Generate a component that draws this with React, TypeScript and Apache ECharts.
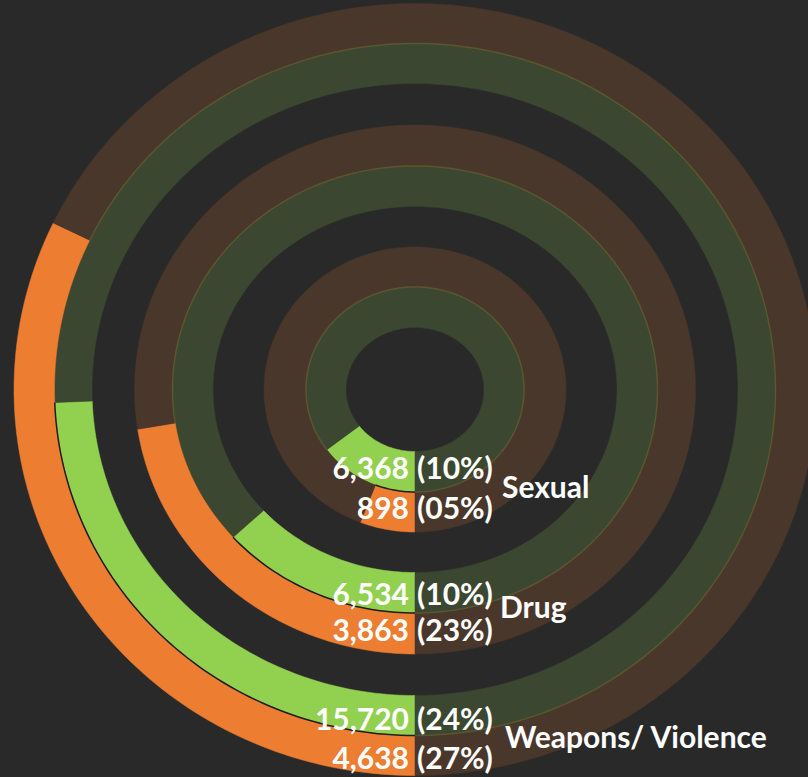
import React, { useEffect, useRef } from "react";
import * as echarts from "echarts";

// ---- data ----
const categories = ["Sexual", "Drug", "Weapons/ Violence"];
const greenCounts = [6368, 6534, 15720];
const greenPct = [10, 10, 24];
const orangeCounts = [898, 3863, 4638];
const orangePct = [5, 23, 27];
// length of each coloured arc as drawn in the picture (% of a full turn)
const greenArc = [15.0, 13.5, 24.4];
const orangeArc = [5.9, 22.6, 32.1];

// ---- layout ----
const W = 808;
const H = 777;
const CX = 415;
const CY = 389.5;
// ring geometry [rxIn, ryIn, rxOut, ryOut], innermost first; green / orange alternate
const RINGS = [
  [69, 62, 109, 102.5],
  [109, 102.5, 151, 142.5],
  [202, 183, 242.5, 223.5],
  [242.5, 223.5, 280.5, 264.5],
  [323, 306, 360.5, 346],
  [360.5, 346, 401, 386],
];
const ROW_Y = [467, 507, 593, 629, 718, 757];
const CAT_Y = [486, 606, 736];
const CAT_X = [502, 500, 505];

const GREEN = "#92d050";
const ORANGE = "#ed7d31";
const GREEN_TRACK = "#3b4730";
const ORANGE_TRACK = "#4a372b";
const SEP = "#5a5630";
const DARK_SEP = "#1e1e1e";
const BG = "#292929";
const FONT = "bold 30px Lato, 'Open Sans', sans-serif";

const fmtPct = (p: number) => "(" + String(p).padStart(2, "0") + "%)";

function ellipsePoint(api: any, rx: number, ry: number, share: number) {
  const t = (share / 100) * Math.PI * 2;
  return api.coord([-rx * Math.sin(t), ry * Math.cos(t)]);
}

export default function App() {
  const ref = useRef<HTMLDivElement>(null);

  useEffect(() => {
    if (!ref.current) return;
    const chart = echarts.init(ref.current, null, { renderer: "svg" });

    const ringData: any[] = [];
    const sepData: any[] = [];
    categories.forEach((_, i) => {
      const gi = 2 * i;
      const oi = 2 * i + 1;
      ringData.push({ value: [gi, 0, greenArc[i]], itemStyle: { color: GREEN } });
      ringData.push({ value: [gi, greenArc[i], 100], itemStyle: { color: GREEN_TRACK } });
      ringData.push({ value: [oi, 0, orangeArc[i]], itemStyle: { color: ORANGE } });
      ringData.push({ value: [oi, orangeArc[i], 100], itemStyle: { color: ORANGE_TRACK } });
      const lo = Math.min(greenArc[i], orangeArc[i]);
      const hi = Math.max(greenArc[i], orangeArc[i]);
      sepData.push({ value: [gi, 0, lo], itemStyle: { color: DARK_SEP } });
      sepData.push({ value: [gi, hi, 100], itemStyle: { color: SEP } });
    });

    const renderRing = (params: any, api: any) => {
      const ring = RINGS[api.value(0)];
      const s0 = api.value(1);
      const s1 = api.value(2);
      const n = Math.max(8, Math.ceil((s1 - s0) * 3));
      const pts: number[][] = [];
      for (let k = 0; k <= n; k++) {
        pts.push(ellipsePoint(api, ring[2], ring[3], s0 + ((s1 - s0) * k) / n));
      }
      for (let k = n; k >= 0; k--) {
        pts.push(ellipsePoint(api, ring[0], ring[1], s0 + ((s1 - s0) * k) / n));
      }
      return {
        type: "polygon",
        shape: { points: pts },
        style: { fill: api.visual("color"), stroke: api.visual("color"), lineWidth: 0.5 },
      };
    };

    const renderSep = (params: any, api: any) => {
      const ring = RINGS[api.value(0)];
      const s0 = api.value(1);
      const s1 = api.value(2);
      const n = Math.max(8, Math.ceil((s1 - s0) * 3));
      const pts: number[][] = [];
      for (let k = 0; k <= n; k++) {
        pts.push(ellipsePoint(api, ring[2], ring[3], s0 + ((s1 - s0) * k) / n));
      }
      return {
        type: "polyline",
        shape: { points: pts },
        style: { stroke: api.visual("color"), lineWidth: 1.5, fill: null },
      };
    };

    const texts: any[] = [];
    categories.forEach((cat, i) => {
      const rows = [
        { count: greenCounts[i], pct: greenPct[i], y: ROW_Y[2 * i] },
        { count: orangeCounts[i], pct: orangePct[i], y: ROW_Y[2 * i + 1] },
      ];
      rows.forEach((r) => {
        texts.push({
          type: "text",
          x: CX - 6,
          y: r.y,
          z: 100,
          style: {
            text: r.count.toLocaleString("en-US"),
            fill: "#ffffff",
            font: FONT,
            textAlign: "right",
            textVerticalAlign: "middle",
            align: "right",
            verticalAlign: "middle",
          },
        });
        texts.push({
          type: "text",
          x: CX + 2,
          y: r.y,
          z: 100,
          style: {
            text: fmtPct(r.pct),
            fill: "#ffffff",
            font: FONT,
            textAlign: "left",
            textVerticalAlign: "middle",
            align: "left",
            verticalAlign: "middle",
          },
        });
      });
      texts.push({
        type: "text",
        x: CAT_X[i],
        y: CAT_Y[i],
        z: 100,
        style: {
          text: cat,
          fill: "#ffffff",
          font: FONT,
          textAlign: "left",
          textVerticalAlign: "middle",
          align: "left",
          verticalAlign: "middle",
        },
      });
    });

    chart.setOption({
      animation: false,
      backgroundColor: BG,
      grid: { left: 0, right: 0, top: 0, bottom: 0 },
      xAxis: { type: "value", min: -CX, max: W - CX, show: false },
      yAxis: { type: "value", min: -CY, max: H - CY, inverse: true, show: false },
      graphic: { elements: texts },
      series: [
        {
          type: "custom",
          silent: true,
          clip: false,
          renderItem: renderRing,
          data: ringData,
          z: 2,
        },
        {
          type: "custom",
          silent: true,
          clip: false,
          renderItem: renderSep,
          data: sepData,
          z: 3,
        },
      ],
    });

    return () => chart.dispose();
  }, []);

  return (
    <div
      ref={ref}
      style={{ position: "fixed", left: 0, top: 0, width: W, height: H }}
    />
  );
}
